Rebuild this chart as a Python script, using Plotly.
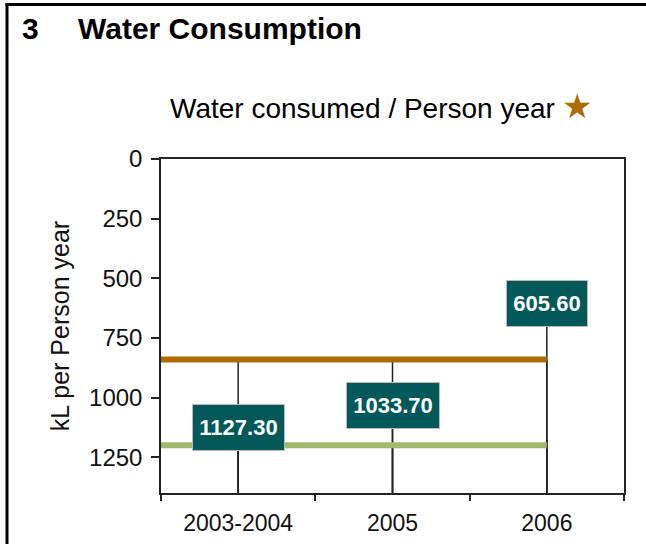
import plotly.graph_objects as go

# ---- data ----
categories = ["2003-2004", "2005", "2006"]
water_per_person = [1127.30, 1033.70, 605.60]
target_brown = [840, 840, 840]
target_green = [1200, 1200, 1200]
value_labels = ["1127.30", "1033.70", "605.60"]
y_tickvals = [0, 250, 500, 750, 1000, 1250]
Y_MAX = 1400

# ---- layout geometry (pixels) ----
W, H = 646, 544
L, R, T, B = 161, 22, 159, 51
PW, PH = W - L - R, H - T - B

def px(xp):
    return (xp - L) / PW

def py(yp):
    return (H - B - yp) / PH

FONT = "Liberation Sans, Arial, sans-serif"
BROWN = "#AD6C02"
GREEN = "#A2B86A"
TEAL = "#03595A"
AX = "#222222"

xs = list(range(len(categories)))

fig = go.Figure()

# drop lines from every series point down to the category axis
for series in (water_per_person, target_brown, target_green):
    for xi, v in zip(xs, series):
        fig.add_trace(go.Scatter(x=[xi, xi], y=[v, Y_MAX], mode="lines",
                                 line=dict(color=AX, width=1.5),
                                 hoverinfo="skip", showlegend=False))

# horizontal reference series
for series, col in ((target_brown, BROWN), (target_green, GREEN)):
    fig.add_trace(go.Scatter(x=[-0.5] + xs, y=[series[0]] + series, mode="lines",
                             line=dict(color=col, width=6),
                             hoverinfo="skip", showlegend=False))

# main series (markers hidden behind labels)
fig.add_trace(go.Scatter(x=xs, y=water_per_person, mode="markers",
                         marker=dict(size=1, color=TEAL), showlegend=False))

widths = [91, 92, 80]
for xi, v, lab, w in zip(xs, water_per_person, value_labels, widths):
    fig.add_annotation(x=xi, y=v, xref="x", yref="y", text=f"<b>{lab}</b>",
                       showarrow=False, bgcolor=TEAL, bordercolor="#BBBBBB",
                       borderwidth=1, borderpad=0, width=w, height=45,
                       font=dict(family=FONT, size=22, color="white"))

# titles
fig.add_annotation(x=px(20), y=py(28), xref="paper", yref="paper", text="<b>3</b>",
                   showarrow=False, xanchor="left", yanchor="middle",
                   font=dict(family=FONT, size=30, color="black"))
fig.add_annotation(x=px(76), y=py(28), xref="paper", yref="paper",
                   text="<b>Water Consumption</b>",
                   showarrow=False, xanchor="left", yanchor="middle",
                   font=dict(family=FONT, size=30, color="black"))
fig.add_annotation(x=px(168), y=py(108), xref="paper", yref="paper",
                   text="Water consumed / Person year",
                   showarrow=False, xanchor="left", yanchor="middle",
                   font=dict(family=FONT, size=28, color="black"))
fig.add_annotation(x=px(577), y=py(106), xref="paper", yref="paper",
                   text="★", showarrow=False, xanchor="center", yanchor="middle",
                   font=dict(family="DejaVu Sans", size=34, color=BROWN))

# outer frame (top and left edges)
fig.add_shape(type="line", xref="paper", yref="paper",
              x0=px(5.5), x1=px(W), y0=py(4.5), y1=py(4.5),
              line=dict(color="black", width=3))
fig.add_shape(type="line", xref="paper", yref="paper",
              x0=px(7), x1=px(7), y0=py(3), y1=py(H),
              line=dict(color="black", width=3))

fig.update_layout(
    width=W, height=H,
    margin=dict(l=L, r=R, t=T, b=B, pad=0, autoexpand=False),
    paper_bgcolor="white", plot_bgcolor="white",
    showlegend=False,
    font=dict(family=FONT, size=22, color="#111111"),
)
fig.update_xaxes(
    automargin=False,
    range=[-0.5, len(categories) - 0.5],
    tickmode="array", tickvals=xs, ticktext=categories,
    ticks="", ticklen=0, showgrid=False, zeroline=False,
    showline=True, linecolor=AX, linewidth=1.5, mirror=True,
    minor=dict(tick0=-0.5, dtick=1, ticks="outside", ticklen=6,
               tickcolor=AX, tickwidth=1.5, showgrid=False),
    tickfont=dict(family=FONT, size=23, color="#111111"),
    ticklabelstandoff=9,
)
fig.update_yaxes(
    automargin=False,
    range=[Y_MAX, 0],
    tickmode="array", tickvals=y_tickvals,
    ticks="outside", ticklen=8, tickcolor=AX, tickwidth=1.5,
    showgrid=False, zeroline=False,
    showline=True, linecolor=AX, linewidth=1.5, mirror=True,
    tickfont=dict(family=FONT, size=24, color="#111111"),
    ticklabelstandoff=4,
    title=dict(text="kL per Person year", standoff=12,
               font=dict(family=FONT, size=25, color="#111111")),
)

fig.write_html("out.html", config={"displayModeBar": False},
               post_script="document.body.style.margin='0px';document.body.style.overflow='hidden';")
